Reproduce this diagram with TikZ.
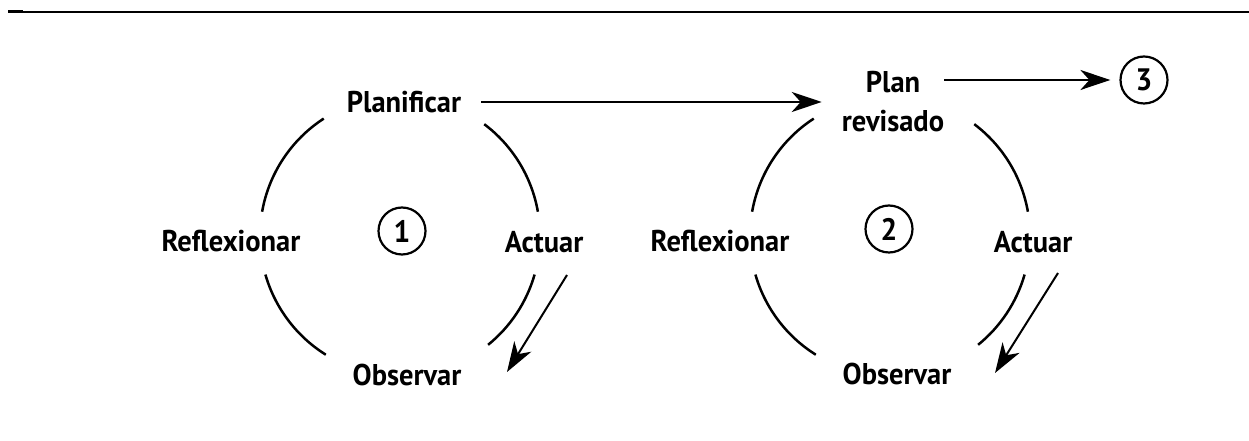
\documentclass[tikz,border=0pt]{standalone}
\usepackage{fontspec}
\setmainfont{PT Sans}[FakeStretch=0.95]
\usetikzlibrary{arrows.meta}
\begin{document}
\begin{tikzpicture}[x=1pt,y=1pt,
  lbl/.style={font=\fontsize{30}{39}\selectfont\bfseries, inner sep=0pt, align=center},
  num/.style={draw, circle, line width=2.2pt, minimum size=47pt, inner sep=0pt, font=\fontsize{31}{31}\selectfont\bfseries},
  arcline/.style={line width=2.5pt},
  arr/.style={line width=2pt, -{Stealth[length=30pt,width=20pt,inset=9pt]}},
  rule/.style={line width=1.6pt}]
\useasboundingbox (0,0) rectangle (1249,441);
% top rule
\coordinate (r0) at (8,429);
\coordinate (r1) at (23,429);
\coordinate (r2) at (1249,429);
\draw[rule] (r0) -- (r2);
\draw[line width=3pt] (r0) -- (r1);
% cycle centres
\coordinate (o1) at (400,205);
\coordinate (o2) at (890,205);
% labels cycle 1
\node[lbl] (plan1) at (404,339) {Planificar};
\node[lbl] (refl1) at (231,200) {Reflexionar};
\node[lbl] (act1) at (544,199) {Actuar};
\node[lbl] (obs1) at (407,66) {Observar};
\node[num] (c1) at (402,210) {1};
% labels cycle 2
\node[lbl] (plan2) at (893,339) {Plan\\revisado};
\node[lbl] (refl2) at (720,200) {Reflexionar};
\node[lbl] (act2) at (1033,199) {Actuar};
\node[lbl] (obs2) at (897,67) {Observar};
\node[num] (c2) at (889,212) {2};
\node[num] (c3) at (1144,361) {3};
% arcs
\foreach \o in {o1,o2}{
  \draw[arcline] (\o) ++(123:140) arc[start angle=123, end angle=170, radius=140];
  \draw[arcline] (\o) ++(10:140) arc[start angle=10, end angle=53, radius=140];
  \draw[arcline] (\o) ++(196:140) arc[start angle=196, end angle=238, radius=140];
  \draw[arcline] (\o) ++(-51:140) arc[start angle=-51, end angle=-16, radius=140];
}
% arrows
\draw[arr, shorten <=20pt, shorten >=20pt] (plan1.east) -- (plan2.west |- plan1.east);
\draw[arr, shorten >=9pt] (plan2.east |- c3.west) -- (c3.west);
\coordinate (a1s) at (567,166);
\coordinate (a1e) at (507,69);
\coordinate (a2s) at (1058,168);
\coordinate (a2e) at (995,68);
\draw[arr] (a1s) -- (a1e);
\draw[arr] (a2s) -- (a2e);
\end{tikzpicture}
\end{document}
